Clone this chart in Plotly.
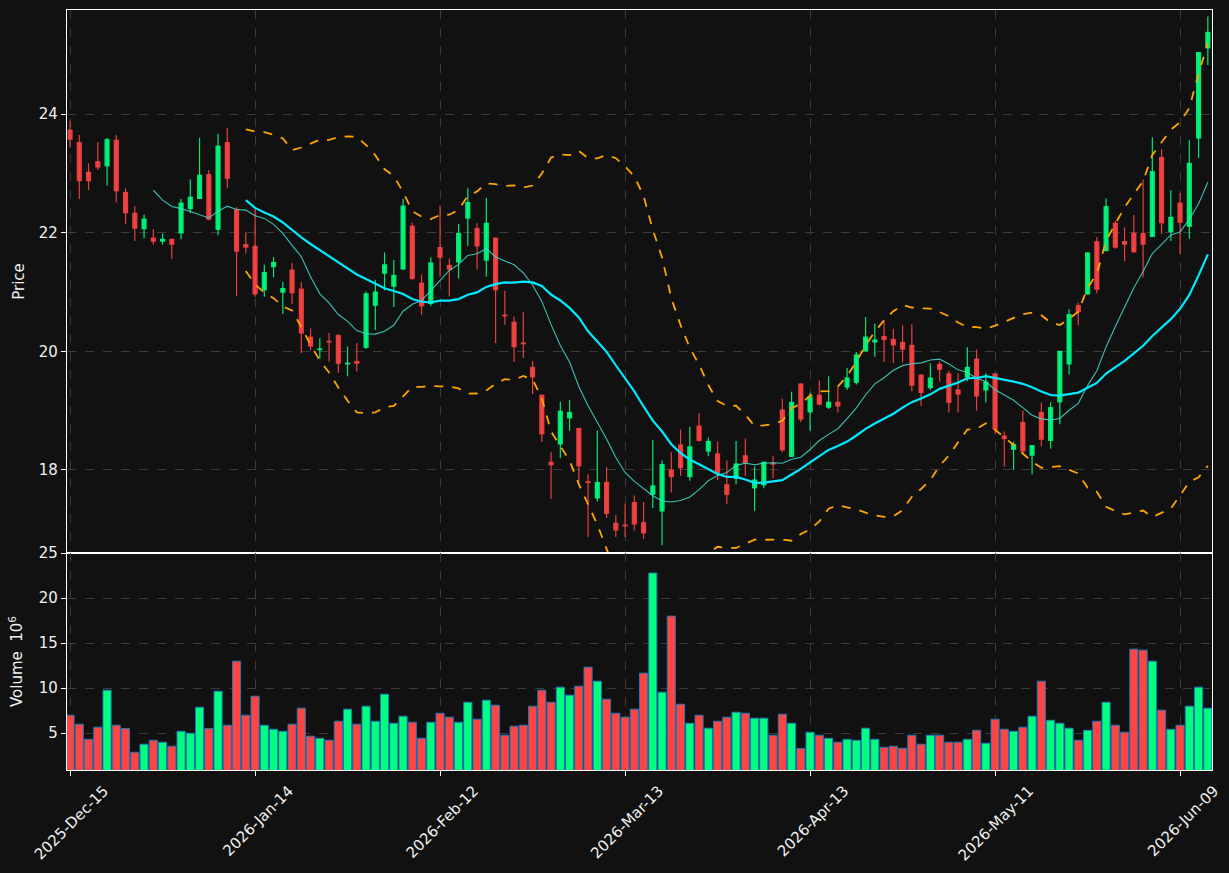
import numpy as np
import pandas as pd
import plotly.graph_objects as go
from plotly.subplots import make_subplots

# ---------------- data ----------------
holidays = ["2025-12-25", "2026-01-01", "2026-01-19", "2026-02-16", "2026-04-03", "2026-05-25"]
dates = [d for d in pd.bdate_range("2025-12-15", "2026-06-12") if d.strftime("%Y-%m-%d") not in holidays]
date_labels = [d.strftime("%Y-%b-%d") for d in dates]

opens = [23.74, 23.53, 23.03, 23.21, 23.12, 23.57, 22.69, 22.34, 22.06, 21.92,
         21.85, 21.90, 21.99, 22.40, 22.57, 22.99, 22.05, 23.53, 22.40, 21.81,
         21.78, 21.03, 21.42, 20.99, 21.38, 21.06, 20.25, 20.02, 20.18, 20.28,
         19.78, 19.84, 20.06, 20.77, 21.31, 21.09, 21.38, 22.12, 21.16, 20.80,
         21.76, 21.46, 21.50, 22.24, 22.08, 21.53, 21.92, 20.62, 20.50, 20.14,
         19.74, 19.27, 18.14, 18.43, 18.87, 18.71, 17.80, 17.52, 17.80, 17.11,
         17.08, 17.46, 17.12, 17.58, 17.30, 18.01, 18.43, 17.88, 18.75, 18.31,
         18.28, 17.76, 17.85, 18.25, 17.69, 17.74, 18.11, 19.02, 18.22, 19.46,
         18.97, 19.27, 19.05, 19.15, 19.39, 19.47, 20.00, 20.15, 20.26, 20.21,
         20.16, 20.11, 19.61, 19.38, 19.79, 19.63, 19.36, 19.56, 19.88, 19.34,
         19.63, 18.58, 18.34, 18.81, 18.24, 18.98, 18.49, 19.14, 19.78, 20.78,
         20.96, 21.86, 21.69, 22.17, 21.86, 22.00, 22.00, 21.93, 23.28, 22.01,
         22.51, 22.10, 23.59, 25.11]
highs = [23.89, 23.65, 23.17, 23.53, 23.60, 23.65, 22.75, 22.45, 22.31, 22.06,
         21.99, 21.90, 22.57, 22.90, 23.60, 23.06, 23.67, 23.77, 22.43, 22.01,
         22.42, 21.46, 21.59, 21.17, 21.49, 21.17, 20.39, 20.22, 20.31, 20.28,
         20.08, 20.14, 21.01, 21.21, 21.67, 21.54, 22.57, 22.17, 21.30, 21.59,
         22.46, 21.57, 22.15, 22.75, 22.16, 22.59, 21.92, 21.02, 20.59, 20.66,
         19.84, 19.27, 18.30, 19.15, 19.18, 18.71, 17.93, 18.66, 18.05, 17.24,
         17.43, 17.57, 17.46, 18.51, 18.16, 18.30, 18.68, 18.73, 18.96, 18.55,
         18.48, 18.16, 18.49, 18.53, 18.06, 18.14, 18.24, 19.20, 19.32, 19.46,
         19.30, 19.51, 19.58, 19.39, 19.72, 19.99, 20.58, 20.47, 20.53, 20.38,
         20.44, 20.46, 19.61, 19.80, 19.83, 19.67, 19.63, 20.07, 20.03, 19.63,
         19.63, 18.65, 18.48, 19.00, 18.42, 19.14, 19.14, 20.01, 20.71, 20.82,
         21.67, 21.93, 22.58, 22.20, 22.09, 22.30, 22.90, 23.61, 23.41, 22.72,
         22.67, 23.56, 25.05, 25.65]
lows = [23.44, 22.57, 22.72, 23.06, 22.80, 22.51, 22.15, 21.86, 21.91, 21.80,
        21.80, 21.56, 21.89, 22.33, 22.57, 22.21, 21.96, 22.75, 20.93, 21.65,
        20.92, 20.92, 21.25, 20.63, 20.80, 19.97, 20.02, 19.88, 19.83, 19.64,
        19.58, 19.66, 20.04, 20.36, 21.03, 20.75, 21.38, 21.21, 20.62, 20.76,
        21.26, 20.93, 21.23, 21.78, 21.38, 21.26, 20.14, 20.45, 19.82, 19.89,
        19.28, 18.47, 17.51, 18.20, 18.66, 17.78, 16.87, 17.47, 17.19, 16.87,
        16.87, 16.98, 16.84, 17.36, 16.73, 17.62, 17.90, 17.82, 18.48, 18.23,
        17.83, 17.43, 17.76, 17.90, 17.31, 17.69, 17.86, 18.30, 18.22, 18.81,
        18.66, 19.09, 19.03, 18.97, 19.35, 19.44, 20.00, 19.91, 19.82, 19.80,
        19.82, 19.33, 19.08, 19.35, 19.49, 18.97, 18.97, 19.50, 19.00, 19.14,
        18.61, 18.06, 18.00, 18.29, 17.93, 18.40, 18.36, 18.77, 19.61, 20.44,
        20.96, 20.98, 21.69, 21.73, 21.52, 21.67, 21.25, 21.93, 21.98, 21.86,
        21.64, 21.90, 23.26, 24.83]
closes = [23.57, 22.87, 22.87, 23.10, 23.58, 22.70, 22.33, 22.07, 22.24, 21.85,
          21.90, 21.80, 22.51, 22.61, 22.98, 22.22, 23.47, 22.91, 21.68, 21.75,
          20.96, 21.34, 21.51, 21.07, 20.98, 20.30, 20.08, 20.04, 20.15, 19.79,
          19.80, 19.79, 20.98, 21.01, 21.47, 21.29, 22.46, 21.22, 20.76, 21.50,
          21.58, 21.38, 22.00, 22.52, 21.77, 22.17, 21.03, 20.59, 20.07, 20.12,
          19.56, 18.60, 18.08, 19.00, 18.98, 18.06, 17.78, 17.80, 17.26, 16.98,
          17.05, 17.08, 16.93, 17.74, 18.10, 17.88, 18.03, 18.40, 18.49, 18.49,
          17.95, 17.58, 18.11, 18.12, 17.84, 18.14, 18.09, 18.33, 19.15, 18.85,
          19.24, 19.10, 19.15, 19.07, 19.56, 19.95, 20.25, 20.20, 20.19, 20.10,
          20.03, 19.42, 19.30, 19.56, 19.69, 19.13, 19.27, 19.74, 19.24, 19.49,
          18.68, 18.52, 18.44, 18.31, 18.42, 18.51, 19.06, 20.01, 20.63, 20.66,
          21.67, 21.04, 22.45, 21.75, 21.80, 21.67, 21.80, 23.04, 22.16, 22.27,
          22.17, 23.18, 25.05, 25.39]
volumes = [7.0, 6.0, 4.33, 5.67, 9.78, 5.89, 5.52, 2.89, 3.78, 4.22,
           4.0, 3.56, 5.22, 5.0, 7.89, 5.52, 9.67, 5.89, 13.0, 7.0,
           9.11, 5.89, 5.44, 5.22, 6.0, 7.78, 4.67, 4.44, 4.22, 6.33,
           7.67, 6.0, 8.0, 6.33, 9.33, 6.11, 6.89, 6.22, 4.44, 6.22,
           7.22, 6.78, 6.22, 8.44, 6.56, 8.67, 8.11, 4.78, 5.78, 5.89,
           8.0, 9.78, 8.44, 10.11, 9.22, 10.22, 12.33, 10.78, 8.78, 7.22,
           6.78, 7.67, 11.67, 22.78, 9.56, 18.0, 8.22, 6.11, 7.0, 5.56,
           6.33, 6.78, 7.33, 7.22, 6.67, 6.67, 4.78, 7.11, 6.11, 3.30,
           5.11, 4.78, 4.44, 4.0, 4.33, 4.22, 5.56, 4.33, 3.44, 3.56,
           3.33, 4.78, 3.78, 4.78, 4.78, 4.0, 4.0, 4.33, 5.33, 3.89,
           6.56, 5.44, 5.22, 5.67, 6.89, 10.78, 6.44, 6.11, 5.56, 4.22,
           5.33, 6.33, 8.44, 5.89, 5.11, 14.33, 14.22, 13.0, 7.56, 5.44,
           5.89, 8.0, 10.11, 7.78]

price_ticks = [18, 20, 22, 24]
volume_ticks = [5, 10, 15, 20, 25]
tick_step = 20

# ---------------- derived ----------------
n = len(closes)
x = np.arange(n)
o = np.array(opens); h = np.array(highs); l = np.array(lows); c = np.array(closes)
up = c >= o
close_s = pd.Series(c)
ma10 = close_s.rolling(10).mean()
ma20 = close_s.rolling(20).mean()
sd20 = close_s.rolling(20).std(ddof=0)
bb_up = ma20 + 2 * sd20
bb_lo = ma20 - 2 * sd20

UP_C = "rgba(0,255,128,0.9)"
DN_C = "rgba(255,68,68,0.9)"
UP_V = "#00ff80"
DN_V = "#ff4444"
BG = "#111111"
GRID = "#3a3a3a"
FONT = dict(family="DejaVu Sans", size=15, color="#f0f0f0")

fig = make_subplots(rows=2, cols=1, shared_xaxes=True, vertical_spacing=0,
                    row_heights=[543, 217])

# wicks
for mask, col in [(up, UP_C), (~up, DN_C)]:
    wx, wy = [], []
    for i in x[mask]:
        wx += [i, i, None]
        wy += [l[i], h[i], None]
    fig.add_trace(go.Scatter(x=wx, y=wy, mode="lines", line=dict(color=col, width=1.2),
                             hoverinfo="skip", showlegend=False), row=1, col=1)

# bodies
body_base = np.minimum(o, c)
body_h = np.maximum(np.abs(c - o), 0.03)
fig.add_trace(go.Bar(x=x, y=body_h, base=body_base, width=0.56,
                     marker=dict(color=[UP_C if u else DN_C for u in up], line=dict(width=0)),
                     showlegend=False), row=1, col=1)

# moving averages and bands
fig.add_trace(go.Scatter(x=x, y=ma10, mode="lines", line=dict(color="rgba(64,224,208,0.85)", width=1.1),
                         showlegend=False), row=1, col=1)
fig.add_trace(go.Scatter(x=x, y=ma20, mode="lines", line=dict(color="#00eaff", width=2.2),
                         showlegend=False), row=1, col=1)
for band in (bb_up, bb_lo):
    fig.add_trace(go.Scatter(x=x, y=band, mode="lines",
                             line=dict(color="#ffa500", width=1.8, dash="dash"),
                             showlegend=False), row=1, col=1)

# volume
fig.add_trace(go.Bar(x=x, y=volumes, width=0.88,
                     marker=dict(color=[UP_V if u else DN_V for u in up],
                                 line=dict(color="#1f77b4", width=1)),
                     showlegend=False), row=2, col=1)

tickvals = list(range(0, n, tick_step))
ticktext = [date_labels[i] for i in tickvals]

axis_common = dict(showline=True, mirror=True, linecolor="#ffffff", linewidth=1.3,
                   showgrid=True, gridcolor=GRID, griddash="dash", gridwidth=1,
                   zeroline=False, tickfont=FONT, automargin=False)

fig.update_xaxes(**axis_common, range=[-0.33, 123.45], tickvals=tickvals, ticktext=ticktext)
fig.update_xaxes(showticklabels=False, ticks="", row=1, col=1)
fig.update_xaxes(ticks="outside", ticklen=5, tickcolor="#ffffff", tickwidth=1.3,
                 tickangle=-45, ticklabelshift=34, ticklabeloverflow="allow", row=2, col=1)

fig.update_yaxes(**axis_common, ticks="outside", ticklen=5, tickcolor="#ffffff", tickwidth=1.3)
fig.update_yaxes(range=[16.60, 25.758], tickvals=price_ticks,
                 title=dict(text="Price", font=FONT, standoff=10), row=1, col=1)
fig.update_yaxes(range=[0.92, 25], tickvals=volume_ticks,
                 title=dict(text="Volume  10<sup>6</sup>", font=FONT, standoff=12), row=2, col=1)

fig.update_layout(width=1229, height=873, paper_bgcolor=BG, plot_bgcolor=BG,
                  margin=dict(l=67, r=17, t=10, b=103), barmode="overlay",
                  font=FONT, showlegend=False)

fig.write_html("out.html")
